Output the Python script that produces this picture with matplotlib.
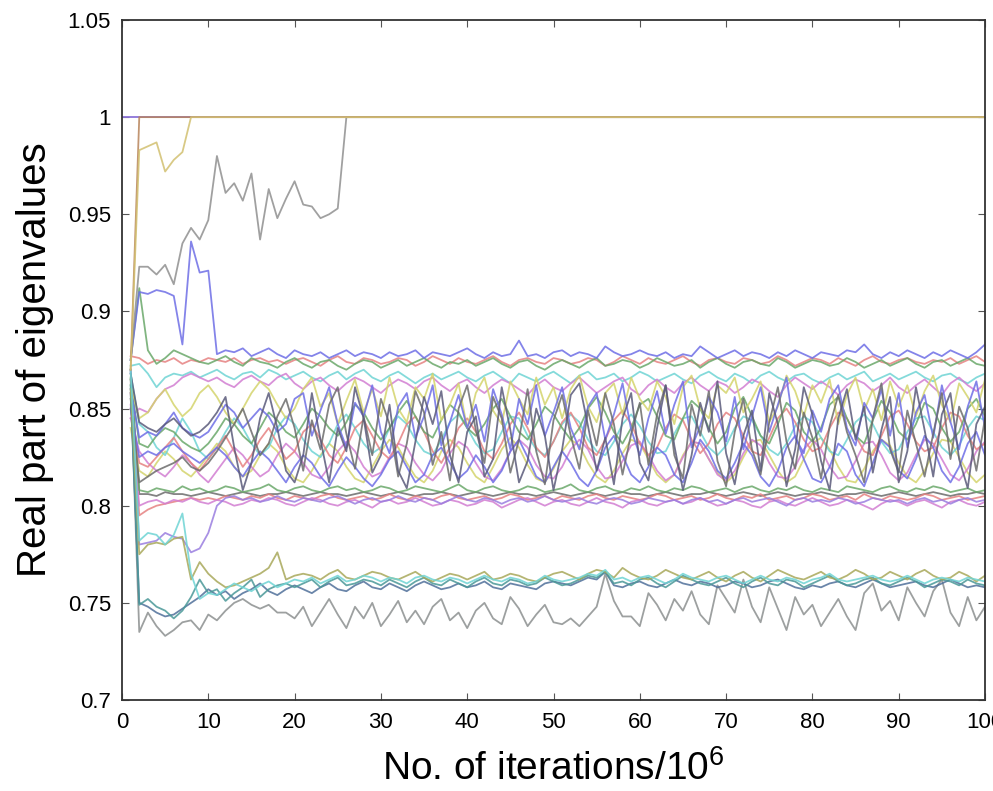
import numpy as np
import matplotlib
matplotlib.use("Agg")
import matplotlib.pyplot as plt

# values in thousandths (875 -> 0.875), x = 1..100 unless noted
X_TICKS = [0, 10, 20, 30, 40, 50, 60, 70, 80, 90, 100]
Y_TICKS = [0.7, 0.75, 0.8, 0.85, 0.9, 0.95, 1.0, 1.05]
Y_TICK_LABELS = ["0.7", "0.75", "0.8", "0.85", "0.9", "0.95", "1", "1.05"]

one_const = [1000] * 101  # x = 0..100
brown_one = [870] + [1000] * 99
yellow_one = [870, 983, 985, 987, 972, 978, 982] + [1000] * 93
grey_one = [875, 923, 923, 919, 924, 914, 935, 943, 937, 947,
            980, 961, 966, 957, 971, 937, 963, 948, 958, 967,
            955, 954, 948, 950, 953] + [1000] * 75

blue_top = [875, 910, 909, 911, 910, 908, 883, 936, 920, 921,
            878, 880, 879, 881, 877, 879, 881, 878, 876, 880,
            878, 877, 879, 876, 878, 880, 877, 879, 878, 876,
            879, 877, 878, 880, 876, 879, 878, 877, 879, 881,
            878, 876, 879, 877, 878, 885, 877, 878, 876, 879,
            880, 877, 879, 878, 876, 882, 879, 877, 878, 880,
            878, 877, 879, 876, 878, 877, 882, 879, 876, 878,
            880, 877, 879, 878, 876, 879, 877, 880, 878, 876,
            879, 878, 877, 880, 879, 883, 878, 876, 879, 877,
            880, 878, 876, 879, 877, 880, 878, 876, 879, 883]

red_top = [877, 876, 873, 875, 874, 876, 873, 875, 874, 876,
           875, 874, 876, 873, 875, 876, 874, 875, 873, 875,
           876, 874, 872, 875, 877, 874, 873, 876, 875, 873,
           874, 876, 875, 872, 874, 877, 875, 873, 876, 874,
           873, 875, 877, 874, 872, 875, 876, 874, 873, 876,
           875, 873, 874, 876, 875, 872, 874, 877, 875, 873,
           876, 874, 873, 875, 877, 874, 872, 875, 876, 874,
           873, 876, 875, 873, 874, 877, 875, 872, 874, 876,
           875, 873, 876, 874, 872, 875, 877, 874, 873, 875,
           876, 874, 873, 875, 874, 876, 873, 875, 877, 874]

green_top = [875, 912, 880, 873, 876, 880, 878, 876, 874, 873,
             875, 877, 874, 872, 876, 874, 873, 871, 874, 876,
             873, 871, 874, 875, 872, 870, 873, 875, 874, 871,
             873, 875, 872, 874, 876, 873, 871, 874, 873, 875,
             872, 874, 876, 873, 871, 874, 875, 872, 870, 873,
             875, 873, 871, 874, 876, 872, 873, 875, 874, 871,
             873, 876, 874, 872, 873, 875, 871, 874, 876, 873,
             871, 874, 875, 873, 872, 876, 874, 871, 873, 875,
             874, 872, 873, 876, 874, 871, 873, 875, 872, 874,
             876, 873, 871, 874, 875, 872, 874, 876, 873, 872]

cyan_top = [872, 873, 868, 861, 866, 868, 867, 869, 866, 868,
            870, 867, 865, 868, 869, 866, 870, 868, 865, 867,
            869, 866, 864, 867, 869, 865, 868, 870, 866, 864,
            867, 869, 866, 863, 866, 868, 865, 867, 869, 866,
            864, 867, 869, 866, 863, 868, 866, 864, 867, 869,
            866, 863, 867, 869, 865, 866, 868, 864, 866, 869,
            867, 864, 866, 868, 865, 863, 867, 869, 866, 864,
            868, 866, 863, 867, 869, 866, 864, 867, 868, 865,
            863, 866, 868, 865, 867, 869, 864, 866, 868, 865,
            867, 869, 866, 864, 867, 868, 865, 863, 866, 868]

magenta_top = [845, 850, 848, 855, 860, 862, 866, 868, 866, 864,
               866, 863, 861, 865, 867, 864, 862, 866, 868, 863,
               860, 864, 866, 862, 859, 863, 866, 864, 861, 858,
               862, 865, 863, 860, 864, 866, 862, 859, 863, 865,
               861, 858, 862, 865, 863, 860, 857, 862, 865, 861,
               859, 863, 866, 862, 858, 861, 864, 866, 860, 857,
               862, 865, 861, 858, 863, 866, 862, 859, 864, 862,
               858, 861, 865, 863, 859, 856, 862, 866, 863, 860,
               864, 861, 857, 862, 865, 863, 859, 862, 866, 861,
               858, 862, 865, 861, 857, 863, 866, 862, 859, 863]

dark_zig1 = [868, 843, 840, 838, 842, 845, 840, 836, 838, 842,
             848, 856, 830, 808, 822, 845, 858, 840, 818, 812,
             826, 858, 834, 812, 840, 828, 861, 845, 817, 826,
             852, 818, 809, 833, 856, 842, 859, 826, 812, 838,
             846, 815, 824, 861, 839, 812, 823, 850, 836, 808,
             829, 857, 863, 841, 818, 835, 811, 845, 858, 822,
             813, 840, 862, 831, 808, 826, 853, 838, 864, 827,
             811, 836, 849, 818, 858, 842, 810, 829, 861, 847,
             823, 808, 845, 860, 834, 851, 817, 839, 856, 812,
             828, 861, 839, 815, 847, 858, 824, 809, 842, 851]

dark_zig2 = [855, 812, 815, 818, 820, 822, 825, 820, 818, 822,
             828, 835, 842, 850, 838, 826, 832, 846, 855, 840,
             818, 844, 829, 852, 861, 837, 819, 846, 826, 855,
             842, 815, 832, 859, 848, 821, 838, 813, 850, 862,
             839, 822, 856, 845, 817, 834, 860, 828, 811, 844,
             857, 836, 819, 849, 831, 858, 842, 816, 837, 853,
             821, 847, 862, 826, 814, 852, 836, 859, 823, 810,
             838, 855, 829, 816, 843, 861, 833, 819, 848, 835,
             814, 841, 857, 838, 826, 812, 845, 863, 829, 817,
             849, 832, 815, 837, 858, 824, 851, 840, 818, 845]

blue_mid = [860, 835, 838, 836, 842, 848, 840, 837, 835, 838,
            845, 852, 848, 840, 845, 850, 846, 838, 842, 855,
            858, 836, 849, 861, 842, 830, 853, 846, 862, 838,
            827, 851, 858, 835, 846, 862, 831, 843, 857, 840,
            852, 833, 860, 847, 829, 855, 842, 862, 836, 848,
            861, 840, 829, 851, 858, 834, 847, 863, 839, 826,
            845, 859, 837, 852, 864, 830, 841, 856, 848, 833,
            856, 829, 846, 861, 838, 852, 866, 835, 827, 849,
            838, 855, 862, 840, 831, 853, 845, 860, 836, 858,
            830, 848, 857, 835, 862, 843, 829, 851, 864, 840]

blue_low_mid = [850, 825, 828, 826, 830, 832, 828, 825, 822, 826,
                830, 826, 820, 815, 822, 828, 824, 818, 812, 820,
                826, 822, 815, 810, 818, 825, 820, 814, 810, 816,
                824, 828, 820, 812, 816, 826, 830, 822, 814, 818,
                826, 820, 812, 818, 828, 834, 825, 815, 812, 820,
                828, 822, 814, 810, 818, 830, 836, 826, 816, 812,
                820, 830, 826, 816, 812, 822, 834, 828, 818, 814,
                822, 832, 826, 815, 810, 818, 830, 836, 824, 814,
                812, 820, 832, 828, 816, 810, 822, 834, 830, 818,
                814, 824, 836, 830, 818, 812, 820, 832, 838, 826]

green_mid = [865, 832, 830, 836, 840, 838, 833, 830, 828, 832,
             838, 845, 842, 836, 832, 840, 848, 844, 838, 835,
             842, 850, 846, 840, 836, 843, 852, 848, 840, 834,
             840, 848, 854, 846, 838, 835, 844, 852, 848, 840,
             836, 842, 850, 855, 846, 838, 834, 842, 851, 847,
             840, 834, 840, 850, 856, 848, 838, 832, 840, 852,
             855, 846, 836, 834, 845, 854, 850, 840, 832, 838,
             850, 856, 846, 836, 832, 842, 853, 849, 838, 833,
             840, 852, 856, 845, 836, 832, 844, 854, 848, 838,
             834, 842, 853, 850, 840, 833, 838, 850, 855, 846]

red_mid = [850, 822, 820, 825, 830, 835, 828, 822, 818, 824,
           830, 836, 828, 820, 826, 834, 840, 832, 824, 828,
           838, 842, 834, 826, 822, 830, 840, 844, 836, 828,
           824, 832, 842, 846, 838, 828, 822, 830, 840, 845,
           838, 828, 824, 832, 842, 848, 840, 830, 825, 833,
           843, 848, 840, 830, 826, 834, 844, 849, 842, 832,
           826, 830, 840, 847, 844, 834, 827, 832, 842, 848,
           845, 836, 828, 826, 835, 845, 850, 843, 834, 828,
           830, 840, 848, 845, 836, 828, 826, 836, 846, 849,
           842, 833, 828, 830, 840, 848, 846, 836, 829, 832]

yellow_mid = [862, 845, 848, 855, 860, 852, 846, 850, 858, 862,
              856, 848, 842, 850, 858, 864, 860, 852, 845, 850,
              860, 866, 851, 858, 842, 854, 865, 848, 860, 846,
              866, 850, 843, 861, 855, 868, 844, 852, 863, 840,
              858, 866, 849, 842, 864, 855, 847, 866, 852, 861,
              845, 860, 867, 851, 843, 858, 863, 847, 866, 855,
              849, 864, 856, 842, 861, 867, 850, 845, 862, 858,
              866, 848, 855, 864, 843, 851, 867, 859, 846, 862,
              853, 865, 842, 857, 866, 849, 860, 844, 864, 851,
              862, 846, 859, 867, 852, 843, 863, 856, 848, 865]

yellow_low_mid = [840, 818, 815, 822, 828, 824, 818, 815, 820, 826,
                  832, 828, 820, 815, 818, 826, 832, 828, 820, 814,
                  812, 818, 826, 832, 828, 820, 814, 812, 820, 828,
                  834, 830, 822, 815, 812, 818, 828, 834, 830, 822,
                  815, 812, 820, 829, 835, 830, 821, 814, 812, 819,
                  828, 834, 831, 822, 815, 812, 818, 827, 834, 832,
                  824, 816, 812, 816, 826, 833, 832, 824, 817, 812,
                  816, 825, 833, 834, 826, 818, 812, 815, 824, 832,
                  835, 829, 820, 813, 812, 819, 828, 834, 831, 822,
                  815, 812, 818, 827, 834, 833, 825, 817, 812, 816]

cyan_mid = [868, 842, 838, 830, 826, 835, 845, 838, 828, 824,
            830, 838, 845, 840, 832, 826, 830, 840, 846, 842,
            834, 828, 825, 832, 842, 847, 840, 832, 827, 830,
            840, 846, 842, 834, 828, 826, 834, 843, 847, 840,
            832, 827, 829, 838, 846, 845, 836, 829, 826, 833,
            842, 847, 843, 834, 828, 826, 833, 842, 847, 841,
            833, 827, 828, 837, 845, 846, 838, 830, 826, 831,
            840, 846, 844, 836, 829, 826, 832, 841, 846, 843,
            835, 828, 826, 834, 843, 847, 842, 833, 827, 829,
            838, 845, 846, 838, 830, 826, 831, 840, 846, 844]

magenta_mid = [845, 828, 822, 818, 815, 820, 826, 822, 816, 812,
               818, 824, 830, 826, 820, 815, 818, 826, 832, 828,
               822, 816, 814, 820, 828, 833, 828, 820, 815, 817,
               825, 832, 830, 822, 816, 813, 818, 827, 833, 830,
               822, 815, 813, 819, 828, 834, 830, 821, 815, 814,
               820, 829, 834, 829, 820, 814, 815, 823, 831, 833,
               826, 818, 813, 816, 825, 833, 832, 824, 816, 813,
               818, 827, 834, 831, 822, 815, 814, 820, 829, 834,
               829, 820, 814, 815, 823, 832, 833, 826, 817, 813,
               817, 826, 834, 832, 824, 816, 813, 819, 828, 833]

dark_flat = [870, 806, 806, 805, 807, 806, 806, 805, 806, 807,
             806, 805, 806, 807, 806, 805, 806, 806, 807, 806,
             805, 806, 807, 806, 806, 805, 806, 807, 806, 805,
             806, 807, 806, 805, 806, 806, 807, 806, 805, 806,
             807, 806, 805, 806, 807, 806, 806, 805, 806, 807,
             806, 805, 806, 807, 806, 805, 806, 807, 806, 806,
             805, 806, 807, 806, 805, 806, 806, 807, 806, 805,
             806, 807, 806, 805, 806, 807, 806, 805, 806, 806,
             807, 806, 805, 806, 806, 807, 806, 805, 806, 807,
             806, 805, 806, 807, 806, 805, 806, 806, 807, 806]

red_bot = [858, 795, 798, 800, 801, 802, 803, 804, 803, 804,
           803, 805, 804, 803, 805, 804, 806, 804, 803, 805,
           804, 803, 805, 806, 804, 803, 804, 805, 803, 804,
           806, 804, 803, 805, 804, 803, 805, 806, 804, 803,
           804, 805, 803, 804, 806, 805, 803, 804, 805, 803,
           805, 804, 803, 805, 806, 804, 803, 805, 804, 803,
           804, 806, 805, 803, 804, 805, 803, 804, 806, 804,
           803, 805, 804, 806, 803, 804, 805, 803, 804, 806,
           805, 803, 804, 805, 803, 806, 804, 803, 805, 804,
           803, 804, 806, 805, 803, 804, 805, 803, 804, 805]

magenta_bot = [852, 800, 802, 803, 801, 803, 802, 804, 802, 801,
               803, 802, 800, 801, 803, 802, 804, 803, 801, 800,
               802, 804, 803, 801, 800, 802, 803, 801, 799, 802,
               803, 801, 802, 804, 802, 800, 801, 803, 802, 800,
               801, 803, 802, 799, 801, 803, 804, 802, 800, 802,
               803, 801, 800, 802, 804, 802, 801, 799, 802, 803,
               801, 800, 802, 803, 801, 802, 804, 802, 800, 801,
               803, 802, 800, 799, 802, 803, 801, 800, 802, 804,
               802, 800, 801, 803, 802, 800, 798, 801, 803, 802,
               800, 802, 803, 801, 799, 802, 803, 801, 800, 802]

green_bot = [866, 808, 807, 809, 808, 807, 810, 808, 809, 807,
             808, 810, 809, 807, 808, 809, 811, 808, 807, 809,
             810, 808, 807, 809, 810, 808, 809, 807, 808, 810,
             809, 807, 808, 810, 809, 808, 807, 809, 811, 808,
             807, 809, 810, 808, 807, 808, 810, 809, 807, 808,
             809, 811, 808, 807, 809, 810, 808, 807, 809, 808,
             810, 808, 807, 809, 808, 810, 809, 807, 808, 809,
             807, 809, 810, 808, 807, 809, 808, 810, 808, 807,
             809, 808, 807, 810, 809, 808, 807, 809, 810, 808,
             807, 809, 808, 810, 809, 807, 808, 809, 807, 808]

purple_bot = [870, 780, 781, 782, 786, 784, 783, 776, 778, 786,
              800, 804, 805, 803, 804, 802, 803, 805, 803, 802,
              804, 803, 802, 804, 805, 803, 801, 803, 804, 802,
              803, 805, 803, 802, 804, 803, 801, 803, 805, 803,
              802, 804, 803, 801, 803, 804, 802, 803, 805, 803,
              802, 803, 804, 802, 801, 803, 804, 803, 801, 802,
              804, 803, 802, 803, 801, 803, 804, 802, 803, 801,
              803, 804, 802, 803, 804, 802, 800, 803, 804, 802,
              803, 802, 804, 803, 801, 802, 804, 803, 802, 803,
              801, 803, 804, 802, 803, 801, 803, 804, 802, 803]

olive_low = [860, 775, 780, 781, 780, 783, 784, 762, 771, 765,
             761, 758, 759, 761, 763, 765, 768, 776, 762, 764,
             765, 764, 762, 765, 767, 763, 762, 764, 766, 765,
             763, 762, 764, 766, 763, 761, 763, 765, 764, 762,
             764, 766, 762, 763, 765, 764, 762, 761, 763, 765,
             766, 764, 762, 765, 767, 766, 763, 768, 765, 763,
             762, 764, 767, 765, 763, 762, 764, 766, 763, 761,
             764, 766, 763, 761, 764, 767, 765, 763, 762, 764,
             766, 763, 762, 764, 767, 765, 762, 763, 766, 764,
             762, 765, 767, 764, 762, 763, 766, 764, 761, 764]

teal_low = [862, 749, 752, 748, 746, 742, 746, 753, 762, 755,
            757, 751, 755, 758, 762, 753, 757, 759, 760, 758,
            760, 762, 758, 761, 763, 759, 760, 762, 761, 759,
            762, 760, 758, 761, 763, 760, 759, 762, 760, 758,
            761, 763, 760, 759, 762, 761, 759, 760, 763, 761,
            759, 760, 762, 764, 763, 766, 760, 761, 759, 762,
            763, 760, 758, 761, 764, 762, 760, 759, 761, 763,
            760, 758, 761, 763, 760, 759, 762, 761, 758, 760,
            762, 764, 761, 759, 760, 762, 763, 760, 759, 761,
            763, 761, 758, 760, 762, 761, 759, 762, 760, 759]

navy_low = [858, 750, 748, 745, 743, 744, 747, 750, 753, 757,
            754, 756, 752, 755, 757, 760, 756, 754, 757, 759,
            757, 755, 758, 760, 757, 756, 759, 761, 758, 757,
            760, 758, 756, 759, 761, 759, 757, 758, 760, 758,
            759, 761, 758, 757, 760, 759, 758, 757, 760, 761,
            760, 759, 761, 763, 762, 766, 759, 758, 760, 761,
            759, 758, 760, 762, 760, 759, 761, 760, 758, 759,
            761, 760, 758, 759, 761, 762, 760, 758, 757, 759,
            758, 760, 761, 759, 758, 760, 762, 760, 758, 759,
            760, 761, 759, 758, 760, 762, 760, 758, 759, 758]

grey_low = [865, 735, 745, 738, 733, 736, 740, 741, 736, 744,
            741, 746, 750, 752, 749, 747, 749, 745, 745, 742,
            748, 738, 745, 752, 744, 737, 748, 742, 750, 738,
            744, 751, 740, 746, 739, 748, 752, 741, 745, 737,
            746, 750, 742, 739, 753, 747, 738, 744, 749, 740,
            739, 742, 738, 743, 748, 765, 751, 743, 743, 738,
            755, 749, 741, 752, 746, 756, 744, 739, 759, 752,
            745, 762, 748, 740, 758, 747, 736, 753, 744, 749,
            738, 745, 752, 743, 736, 755, 760, 746, 751, 741,
            758, 750, 743, 756, 762, 745, 738, 753, 741, 748]

cyan_spike = [870, 782, 786, 785, 780, 785, 796, 765, 752, 755,
              754, 757, 760, 758, 756, 759, 761, 758, 760, 762,
              761, 763, 760, 762, 764, 761, 762, 764, 763, 761,
              763, 762, 760, 763, 764, 762, 761, 763, 762, 760,
              762, 764, 762, 761, 763, 762, 760, 761, 764, 762,
              761, 762, 763, 765, 764, 767, 762, 763, 761, 763,
              764, 762, 760, 762, 765, 763, 762, 761, 763, 764,
              762, 760, 762, 764, 762, 761, 763, 762, 760, 762,
              763, 765, 762, 761, 762, 763, 764, 762, 761, 762,
              764, 762, 760, 762, 763, 762, 761, 763, 762, 761]

C_B = "#6e6ee6"
C_G = "#6aa86a"
C_R = "#e68282"
C_C = "#6fd4d4"
C_M = "#d27ed2"
C_Y = "#d4d46c"
C_K = "#6c6c6c"

series = [
    (dark_flat, C_K), (red_bot, C_R), (magenta_bot, C_M), (green_bot, C_G),
    (purple_bot, "#9a7ee0"),
    (red_top, C_R), (green_top, C_G), (cyan_top, C_C), (magenta_top, C_M),
    (yellow_low_mid, C_Y), (magenta_mid, C_M), (cyan_mid, C_C),
    (red_mid, C_R), (green_mid, C_G), (yellow_mid, C_Y),
    (blue_low_mid, C_B), (blue_mid, C_B), (dark_zig2, C_K), (dark_zig1, "#5a5a7a"),
    (blue_top, C_B),
    (grey_low, "#8c9090"), (navy_low, "#50709a"), (teal_low, "#4a9898"),
    (olive_low, "#a8a85a"), (cyan_spike, C_C),
    (grey_one, "#909090"), (brown_one, "#b8845a"), (yellow_one, "#d2c070"),
]

plt.rcParams["mathtext.fontset"] = "custom"
plt.rcParams["mathtext.rm"] = "Liberation Sans"
plt.rcParams["mathtext.it"] = "Liberation Sans"

fig = plt.figure(figsize=(9.93, 7.91), dpi=100)
ax = fig.add_axes([122 / 993, 1 - 700 / 791, (985 - 122) / 993, (700 - 20) / 791])

x0 = np.arange(0, 101)
ax.plot(x0, np.array(one_const) / 1000.0, color="#8c74d8", lw=1.3)
x = np.arange(1, 101)
for vals, col in series:
    ax.plot(x, np.array(vals) / 1000.0, color=col, lw=1.3, alpha=0.85)

ax.set_xlim(0, 100)
ax.set_ylim(0.7, 1.05)
ax.set_xticks(X_TICKS)
ax.set_yticks(Y_TICKS)
ax.set_yticklabels(Y_TICK_LABELS)
ax.tick_params(direction="in", length=5, width=0.8, top=True, right=True,
               labelsize=16, color="#555555")
ax.tick_params(axis="x", pad=9)
ax.tick_params(axis="y", pad=8)
for lab in ax.get_xticklabels() + ax.get_yticklabels():
    lab.set_family(["Liberation Sans Narrow", "Liberation Sans"])
for sp in ax.spines.values():
    sp.set_linewidth(1.3)
    sp.set_color("#333333")

ax.set_xlabel("No. of iterations/10$^6$", fontsize=28,
              family=["Liberation Sans Narrow", "Liberation Sans"], labelpad=12)
ax.set_ylabel("Real part of eigenvalues", fontsize=29,
              family=["Liberation Sans Narrow", "Liberation Sans"], labelpad=10)

fig.savefig("out.png", dpi=100)
